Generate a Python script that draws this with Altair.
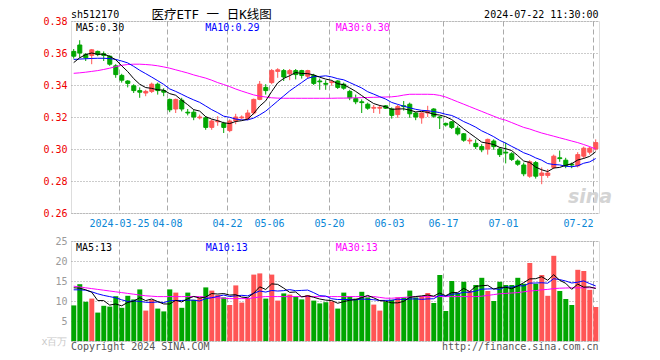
import altair as alt
import numpy as np
import pandas as pd

# ---------------- values ----------------
# 88 daily candles, 2024-03-13 .. 2024-07-22
opens = [0.3610, 0.3650, 0.3590, 0.3585, 0.3610, 0.3595, 0.3580, 0.3520, 0.3460, 0.3425,
         0.3395, 0.3365, 0.3350, 0.3360, 0.3405, 0.3365, 0.3310, 0.3250, 0.3305, 0.3230,
         0.3230, 0.3195, 0.3195, 0.3135, 0.3170, 0.3160, 0.3115, 0.3175, 0.3195, 0.3190,
         0.3225, 0.3310, 0.3385, 0.3415, 0.3485, 0.3490, 0.3470, 0.3490, 0.3490, 0.3455,
         0.3460, 0.3425, 0.3410, 0.3415, 0.3425, 0.3405, 0.3360, 0.3315, 0.3295, 0.3280,
         0.3255, 0.3255, 0.3270, 0.3250, 0.3215, 0.3270, 0.3280, 0.3225, 0.3195, 0.3225,
         0.3250, 0.3200, 0.3160, 0.3170, 0.3130, 0.3095, 0.3050, 0.3035, 0.3015, 0.3000,
         0.3050, 0.3000, 0.2980, 0.2970, 0.2925, 0.2900, 0.2830, 0.2915, 0.2835, 0.2835,
         0.2885, 0.2945, 0.2930, 0.2905, 0.2895, 0.2955, 0.2980, 0.3000]
highs = [0.3625, 0.3680, 0.3600, 0.3625, 0.3615, 0.3610, 0.3585, 0.3530, 0.3470, 0.3430,
         0.3405, 0.3385, 0.3370, 0.3415, 0.3415, 0.3380, 0.3315, 0.3315, 0.3320, 0.3250,
         0.3245, 0.3215, 0.3205, 0.3185, 0.3205, 0.3170, 0.3185, 0.3220, 0.3210, 0.3245,
         0.3315, 0.3425, 0.3405, 0.3500, 0.3505, 0.3500, 0.3500, 0.3500, 0.3495, 0.3495,
         0.3470, 0.3440, 0.3430, 0.3430, 0.3430, 0.3415, 0.3370, 0.3340, 0.3310, 0.3290,
         0.3275, 0.3275, 0.3275, 0.3260, 0.3275, 0.3300, 0.3290, 0.3230, 0.3230, 0.3270,
         0.3255, 0.3205, 0.3165, 0.3175, 0.3145, 0.3100, 0.3070, 0.3060, 0.3030, 0.3065,
         0.3060, 0.3010, 0.3040, 0.2980, 0.2935, 0.2915, 0.2930, 0.2925, 0.2885, 0.2875,
         0.2965, 0.2990, 0.2945, 0.2915, 0.2980, 0.3015, 0.3015, 0.3060]
lows = [0.3565, 0.3570, 0.3550, 0.3530, 0.3580, 0.3550, 0.3520, 0.3445, 0.3415, 0.3385,
        0.3350, 0.3320, 0.3330, 0.3350, 0.3340, 0.3330, 0.3230, 0.3225, 0.3235, 0.3210,
        0.3180, 0.3185, 0.3120, 0.3120, 0.3145, 0.3100, 0.3105, 0.3155, 0.3185, 0.3180,
        0.3215, 0.3305, 0.3340, 0.3405, 0.3445, 0.3425, 0.3430, 0.3435, 0.3440, 0.3440,
        0.3400, 0.3370, 0.3370, 0.3395, 0.3375, 0.3370, 0.3305, 0.3280, 0.3225, 0.3245,
        0.3225, 0.3220, 0.3250, 0.3190, 0.3195, 0.3240, 0.3195, 0.3180, 0.3158, 0.3200,
        0.3195, 0.3125, 0.3140, 0.3125, 0.3085, 0.3045, 0.3030, 0.3000, 0.2980, 0.2965,
        0.2995, 0.2950, 0.2910, 0.2925, 0.2895, 0.2830, 0.2820, 0.2815, 0.2780, 0.2820,
        0.2875, 0.2920, 0.2880, 0.2880, 0.2885, 0.2940, 0.2965, 0.2990]
closes = [0.3580, 0.3600, 0.3570, 0.3620, 0.3590, 0.3585, 0.3530, 0.3465, 0.3430, 0.3410,
          0.3365, 0.3355, 0.3360, 0.3405, 0.3365, 0.3355, 0.3245, 0.3310, 0.3250, 0.3225,
          0.3200, 0.3200, 0.3135, 0.3175, 0.3175, 0.3135, 0.3175, 0.3200, 0.3200, 0.3225,
          0.3310, 0.3405, 0.3365, 0.3490, 0.3495, 0.3450, 0.3490, 0.3465, 0.3460, 0.3490,
          0.3410, 0.3420, 0.3405, 0.3420, 0.3385, 0.3380, 0.3320, 0.3295, 0.3290, 0.3255,
          0.3260, 0.3260, 0.3255, 0.3210, 0.3265, 0.3265, 0.3220, 0.3200, 0.3225, 0.3235,
          0.3205, 0.3195, 0.3150, 0.3135, 0.3095, 0.3055, 0.3055, 0.3015, 0.2995, 0.3060,
          0.3015, 0.2965, 0.2975, 0.2935, 0.2905, 0.2845, 0.2920, 0.2830, 0.2850, 0.2850,
          0.2955, 0.2940, 0.2895, 0.2900, 0.2965, 0.3005, 0.3005, 0.3040]
# volume, millions
volumes = [8.9, 14.2, 9.8, 10.6, 7.1, 8.8, 8.6, 11.2, 8.3, 11.3,
           10.4, 12.9, 7.6, 10.3, 8.1, 7.4, 12.9, 12.1, 8.3, 12.1,
           10.3, 10.9, 13.4, 12.6, 11.5, 10.9, 9.0, 13.9, 9.6, 10.7,
           16.6, 16.9, 10.6, 16.6, 10.1, 11.9, 11.6, 11.1, 10.4, 11.5,
           10.1, 9.4, 9.7, 9.9, 8.1, 12.1, 11.1, 10.6, 12.3, 10.9,
           9.1, 7.6, 9.8, 10.3, 10.9, 10.9, 12.6, 10.9, 11.1, 12.0,
           9.5, 16.5, 7.5, 15.0, 12.0, 14.8, 12.5, 14.0, 15.8, 12.5,
           10.0, 14.8, 14.0, 14.0, 15.8, 14.3, 19.5, 14.3, 16.5, 11.3,
           21.3, 12.5, 10.5, 9.0, 17.8, 17.5, 12.8, 8.5]
# MA30 lines
ma30_price = [0.3473, 0.3476, 0.3480, 0.3485, 0.3490, 0.3497, 0.3505, 0.3515, 0.3523, 0.3528,
              0.3530, 0.3530, 0.3528, 0.3525, 0.3520, 0.3513, 0.3505, 0.3495, 0.3485, 0.3475,
              0.3463, 0.3453, 0.3443, 0.3430, 0.3415, 0.3403, 0.3390, 0.3375, 0.3362, 0.3350,
              0.3338, 0.3330, 0.3325, 0.3320, 0.3318, 0.3317, 0.3317, 0.3317, 0.3317, 0.3317,
              0.3317, 0.3317, 0.3317, 0.3317, 0.3318, 0.3318, 0.3319, 0.3320, 0.3321, 0.3322,
              0.3323, 0.3324, 0.3325, 0.3326, 0.3330, 0.3337, 0.3342, 0.3342, 0.3342, 0.3342,
              0.3341, 0.3335, 0.3325, 0.3310, 0.3295, 0.3280, 0.3265, 0.3250, 0.3235, 0.3220,
              0.3205, 0.3190, 0.3180, 0.3165, 0.3150, 0.3135, 0.3125, 0.3112, 0.3100, 0.3090,
              0.3080, 0.3070, 0.3060, 0.3050, 0.3040, 0.3028, 0.3015, 0.3000]
ma30_vol = [13.7, 13.5, 13.3, 13.1, 12.9, 12.7, 12.5, 12.3, 12.1, 11.9,
            11.7, 11.5, 11.3, 11.2, 11.1, 11.1, 11.1, 11.1, 11.1, 11.1,
            11.1, 11.1, 11.0, 10.9, 10.8, 10.7, 10.6, 10.6, 10.6, 10.6,
            10.8, 11.0, 11.1, 11.1, 11.1, 11.1, 11.1, 11.1, 11.1, 11.1,
            11.1, 11.1, 11.1, 11.1, 11.1, 11.1, 11.1, 11.1, 11.1, 11.1,
            11.1, 10.9, 10.7, 10.7, 10.8, 10.9, 11.0, 11.1, 11.1, 11.1,
            11.1, 11.1, 11.1, 11.1, 11.1, 11.1, 11.1, 11.1, 11.2, 11.4,
            11.6, 11.8, 11.9, 12.0, 12.1, 12.3, 12.5, 12.6, 12.8, 12.9,
            13.1, 13.2, 13.25, 13.3, 13.3, 13.3, 13.3, 13.3]
# first points of the short averages (their earlier days are off the chart)
ma5_head = [0.3540, 0.3570, 0.3590, 0.3600]
ma10_head = [0.3560, 0.3562, 0.3564, 0.3566, 0.3567, 0.3567, 0.3565, 0.3560, 0.3550]
vma5_head = [13.3, 13.2, 12.8, 12.2]
vma10_head = [12.8, 12.8, 12.7, 12.3, 11.8, 11.4, 11.1, 10.8, 10.3]

tick_idx = [8, 16, 26, 33, 43, 53, 62, 72, 87]
tick_labels = ["2024-03-25", "04-08", "04-22", "05-06", "05-20", "06-03", "06-17", "07-01", "07-22"]
price_ticks = [0.26, 0.28, 0.30, 0.32, 0.34, 0.36, 0.38]
vol_ticks = [0, 5, 10, 15, 20, 25]

# ---------------- table ----------------
n = len(closes)
df = pd.DataFrame({"i": np.arange(n), "open": opens, "high": highs, "low": lows,
                   "close": closes, "vol": volumes, "ma30": ma30_price, "vma30": ma30_vol})
df["dir"] = np.where(df["close"] >= df["open"], "up", "down")
df["top"] = df[["open", "close"]].max(axis=1)
df["bot"] = df[["open", "close"]].min(axis=1)
ma5 = df["close"].rolling(5).mean().to_numpy(); ma5[:4] = ma5_head
ma10 = df["close"].rolling(10).mean().to_numpy(); ma10[:9] = ma10_head
vma5 = df["vol"].rolling(5).mean().to_numpy(); vma5[:4] = vma5_head
vma10 = df["vol"].rolling(10).mean().to_numpy(); vma10[:9] = vma10_head
df["ma5"], df["ma10"], df["vma5"], df["vma10"] = ma5, ma10, vma5, vma10
df["xc"] = df["i"] + 0.45
df["xb0"] = df["i"] + 0.13
df["xb1"] = df["i"] + 0.80
df["xv0"] = df["i"] + 0.05
df["xv1"] = df["i"] + 0.88

# ---------------- style ----------------
FONT = "DejaVu Sans Mono"
CJK = "DejaVu Sans Mono, Noto Sans CJK SC"
RED, GREEN = "#ff5555", "#00a600"
W, H1, H2 = 528, 192, 100

xs = alt.Scale(domain=[0, 88], nice=False, zero=False)
ps = alt.Scale(domain=[0.26, 0.38], nice=False, zero=False)
vs = alt.Scale(domain=[0, 25], nice=False, zero=False)
cs = alt.Scale(domain=["up", "down"], range=[RED, GREEN])

idx_js = "[" + ",".join(str(v) for v in tick_idx) + "]"
lab_js = "[" + ",".join("'" + s + "'" for s in tick_labels) + "]"

x_axis_main = alt.Axis(values=tick_idx, labelExpr=f"{lab_js}[indexof({idx_js}, datum.value)]",
                       grid=True, gridColor="#aaaaaa", gridDash=[5, 3], gridWidth=1,
                       ticks=False, domain=False, labelColor="#0a86d6", labelFont=FONT,
                       labelFontSize=10, labelPadding=5, labelOverlap=False, labelFlush=False,
                       labelAlign={"condition": {"test": "datum.value == 87", "value": "right"},
                                   "value": "center"},
                       title=None)
x_axis_vol = alt.Axis(values=tick_idx, labels=False, grid=True, gridColor="#aaaaaa",
                      gridDash=[5, 3], gridWidth=1, ticks=False, domain=False, title=None)
y_axis_main = alt.Axis(values=price_ticks, format=".2f", grid=True, gridColor="#999999",
                       gridDash=[1, 2], ticks=False, domain=False, labelColor="#ee0000",
                       labelFont=FONT, labelFontSize=10, labelPadding=4, title=None)
y_axis_vol = alt.Axis(values=vol_ticks, grid=True, gridColor="#999999", gridDash=[1, 2],
                      ticks=False, domain=False, labelFont=FONT, labelFontSize=10, labelPadding=4,
                      labelExpr="datum.value == 0 ? 'x百万' : datum.label",
                      labelColor={"condition": {"test": "datum.value == 0", "value": "#c8c8c8"},
                                  "value": "#9a9a9a"},
                      title=None)


def txt(s, x, y, color, size=10, align="left", font=FONT, **kw):
    return alt.Chart(pd.DataFrame({"t": [s]})).mark_text(
        align=align, baseline="alphabetic", font=font, fontSize=size, color=color, **kw
    ).encode(x=alt.value(x), y=alt.value(y), text="t:N")


base = alt.Chart(df)
X = lambda f: alt.X(f, scale=xs, axis=x_axis_main, title=None)
Xv = lambda f: alt.X(f, scale=xs, axis=x_axis_vol, title=None)
Y = lambda f: alt.Y(f, scale=ps, axis=y_axis_main, title=None)
Yv = lambda f: alt.Y(f, scale=vs, axis=y_axis_vol, title=None)

wicks = base.mark_rule(strokeWidth=1).encode(
    x=X("xc:Q"), y=Y("low:Q"), y2="high:Q",
    color=alt.Color("dir:N", scale=cs, legend=None))
bodies = base.mark_rect(strokeWidth=1).encode(
    x=X("xb0:Q"), x2="xb1:Q", y=Y("bot:Q"), y2="top:Q",
    color=alt.Color("dir:N", scale=cs, legend=None),
    stroke=alt.Stroke("dir:N", scale=cs, legend=None))
l5 = base.mark_line(color="black", strokeWidth=1).encode(x=X("xc:Q"), y=Y("ma5:Q"))
l10 = base.mark_line(color="#0000ff", strokeWidth=1).encode(x=X("xc:Q"), y=Y("ma10:Q"))
l30 = base.mark_line(color="#ff00ff", strokeWidth=1).encode(x=X("xc:Q"), y=Y("ma30:Q"))

main = alt.layer(
    wicks, bodies, l30, l10, l5,
    txt("sh512170", 0, -3.5, "black"),
    txt("医疗ETF 一 日K线图", 80.5, -2.5, "black", size=12.5, font=CJK),
    txt("2024-07-22 11:30:00", 527.5, -3.5, "black", align="right"),
    txt("MA5:0.30", 5, 9.5, "black"),
    txt("MA10:0.29", 134.3, 9.5, "#0000ff"),
    txt("MA30:0.30", 264.7, 9.5, "#ff00ff"),
    txt("sina", 497, 182, "#d4d4d4", size=19, font="DejaVu Sans", fontStyle="italic", fontWeight="bold"),
).properties(width=W, height=H1)

vbars = base.mark_rect().encode(
    x=Xv("xv0:Q"), x2="xv1:Q", y=Yv("vol:Q"), y2=alt.datum(0),
    color=alt.Color("dir:N", scale=cs, legend=None))
v5 = base.mark_line(color="black", strokeWidth=1).encode(x=Xv("xc:Q"), y=Yv("vma5:Q"))
v10 = base.mark_line(color="#0000ff", strokeWidth=1).encode(x=Xv("xc:Q"), y=Yv("vma10:Q"))
v30 = base.mark_line(color="#ff00ff", strokeWidth=1).encode(x=Xv("xc:Q"), y=Yv("vma30:Q"))

vol = alt.layer(
    vbars, v30, v10, v5,
    txt("MA5:13", 5, 10, "black"),
    txt("MA10:13", 134.7, 10, "#0000ff"),
    txt("MA30:13", 264.7, 10, "#ff00ff"),
    txt("Copyright 2024 SINA.COM", 0, 109, "#555555"),
    txt("http://finance.sina.com.cn", 527.5, 109, "#555555", align="right"),
).properties(width=W, height=H2)

chart = alt.vconcat(main, vol, spacing=28, bounds="flush").properties(
    padding={"left": 32, "top": 0, "right": 0, "bottom": 0}
).configure_view(stroke="#999999", strokeWidth=1.5).configure(background="white")

chart.save("out.html", embed_options={"renderer": "svg", "actions": False})
